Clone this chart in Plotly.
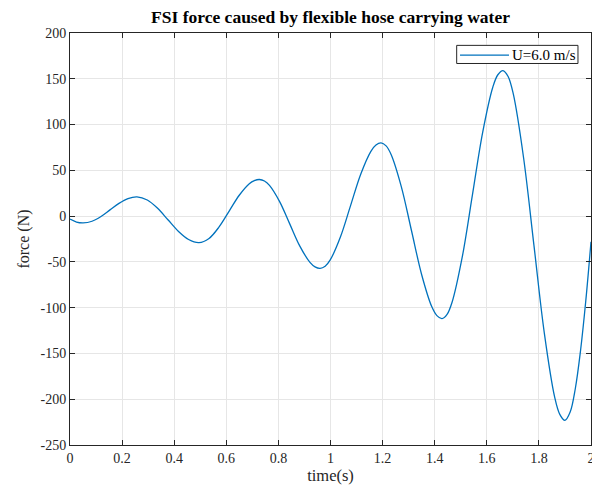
import plotly.graph_objects as go

time_s = [0.0, 0.025, 0.05,
          0.0845, 0.119, 0.1535, 0.188, 0.2225, 0.257,
          0.2967, 0.3363, 0.376, 0.4157, 0.4553, 0.495,
          0.5337, 0.5723, 0.611, 0.6497, 0.6883, 0.7077, 0.727,
          0.7464, 0.7658, 0.8047, 0.8435, 0.8823, 0.9212, 0.9406, 0.96,
          0.9795, 0.999, 1.038, 1.077, 1.116, 1.155, 1.1745, 1.194,
          1.2135, 1.233, 1.272, 1.311, 1.35, 1.389, 1.4085, 1.428,
          1.4475, 1.467, 1.506, 1.545, 1.584, 1.623, 1.6425, 1.662,
          1.6818, 1.7017, 1.7413, 1.781, 1.8207, 1.8603, 1.8802, 1.9,
          1.92, 1.94, 1.96, 1.98, 2.0]
force_N = [-3.3, -6.5, -7.4,
           -5.6, -0.4, 6.8, 13.9, 19.1, 21,
           17.6, 8.5, -4, -16.5, -25.6, -29,
           -24.4, -11.8, 5.5, 22.8, 35.4, 38.8, 40,
           38.4, 33.5, 15.8, -8.5, -32.8, -50.5, -55.4, -57,
           -54.7, -47.8, -22.8, 11.5, 45.8, 70.8, 77.7, 80,
           76.7, 67.1, 32, -16, -64, -99.1, -108.7, -112,
           -107.4, -93.8, -44.3, 23.5, 91.3, 140.8, 154.4, 159,
           152.5, 133.4, 63.5, -32, -127.5, -197.4, -216.5, -223,
           -214, -188, -146.5, -92.5, -28]

x_ticks = [0, 0.2, 0.4, 0.6, 0.8, 1, 1.2, 1.4, 1.6, 1.8, 2]
x_tick_labels = ["0", "0.2", "0.4", "0.6", "0.8", "1", "1.2", "1.4", "1.6", "1.8", "2"]
y_ticks = [-250, -200, -150, -100, -50, 0, 50, 100, 150, 200]
y_tick_labels = ["-250", "-200", "-150", "-100", "-50", "0", "50", "100", "150", "200"]
series_name = "U=6.0 m/s"

font_family = "Liberation Serif, Times New Roman, serif"
axcol = "#262626"
line_color = "#0072BD"

fig = go.Figure()
fig.add_trace(go.Scatter(
    x=time_s, y=force_N, mode="lines", name=series_name, showlegend=False,
    line=dict(color=line_color, width=1.3, shape="spline", smoothing=1.0),
))

axis_common = dict(
    showgrid=True, gridcolor="#e6e6e6", gridwidth=1,
    showline=True, linecolor=axcol, linewidth=1, mirror="ticks",
    ticks="inside", ticklen=5, tickcolor=axcol,
    zeroline=False, ticklabeloverflow="allow", automargin=False,
    tickfont=dict(family=font_family, size=14, color=axcol),
)

# legend box (drawn manually so its height matches the reference)
fig.add_shape(type="rect", xref="paper", yref="paper",
              x0=0.7422, x1=0.975, y0=0.926, y1=0.970,
              fillcolor="white", line=dict(color=axcol, width=1), layer="above")
fig.add_shape(type="line", xref="paper", yref="paper",
              x0=0.7486, x1=0.8426, y0=0.9465, y1=0.9465,
              line=dict(color=line_color, width=1.3), layer="above")
fig.add_annotation(xref="paper", yref="paper", x=0.8445, y=0.9465,
                   xanchor="left", yanchor="middle", showarrow=False,
                   text=series_name,
                   font=dict(family=font_family, size=15, color="black"))

fig.update_layout(
    width=592, height=495,
    margin=dict(l=70, r=1, t=33, b=50),
    paper_bgcolor="white", plot_bgcolor="white",
    title=dict(text="<b>FSI force caused by flexible hose carrying water</b>",
               xref="paper", x=0.5, xanchor="center", y=1 - 17 / 495, yanchor="middle",
               font=dict(family=font_family, size=17.5, color="black")),
    xaxis=dict(range=[0, 2], tickvals=x_ticks, ticktext=x_tick_labels,
               title=dict(text="time(s)", font=dict(family=font_family, size=16.5, color=axcol), standoff=4),
               **axis_common),
    yaxis=dict(range=[-250, 200], tickvals=y_ticks, ticktext=y_tick_labels,
               title=dict(text="force (N)", font=dict(family=font_family, size=16, color=axcol), standoff=6),
               **axis_common),
    showlegend=False,
)

fig.write_html("out.html", config={"displayModeBar": False},
               post_script="document.body.style.margin='0px';")
